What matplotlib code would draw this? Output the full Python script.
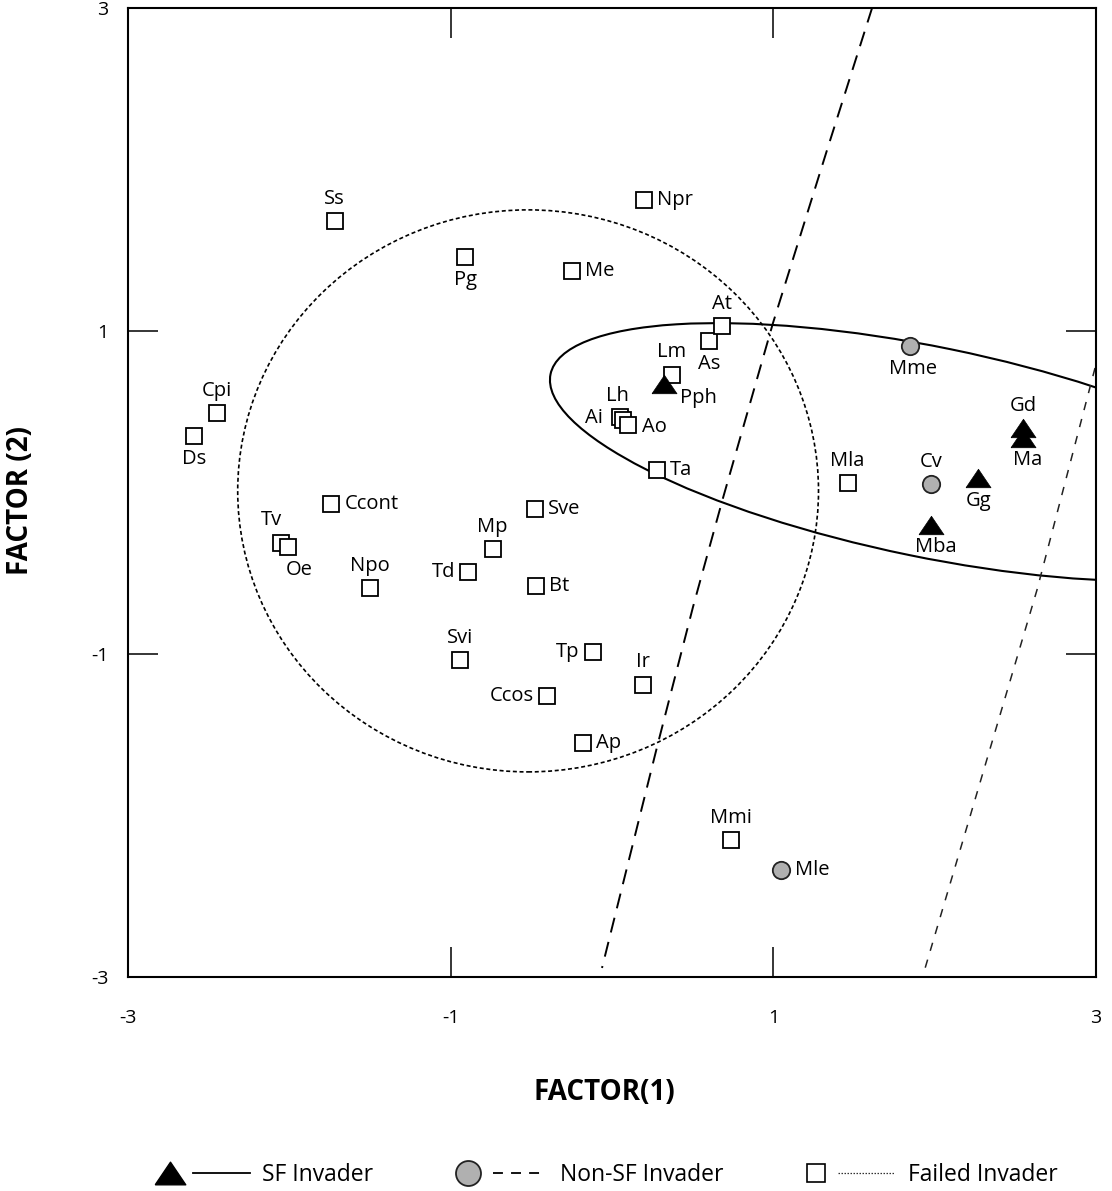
import numpy as np
import matplotlib
matplotlib.use('Agg')
import matplotlib.pyplot as plt
from matplotlib.patches import Ellipse

plt.rcParams['font.family'] = ['Open Sans', 'DejaVu Sans']

# failed invaders (squares)
failed_names = ['Ss', 'Pg', 'Npr', 'Me', 'As', 'At', 'Lm', 'Lh', 'Ai', 'Ao', 'Ta', 'Mla',
                'Cpi', 'Ds', 'Ccont', 'Tv', 'Oe', 'Npo', 'Sve', 'Mp', 'Td', 'Bt', 'Svi',
                'Tp', 'Ir', 'Ccos', 'Ap', 'Mmi']
failed_x = [-1.72, -0.91, 0.20, -0.25, 0.60, 0.68, 0.37, 0.05, 0.07, 0.10, 0.28, 1.46,
            -2.45, -2.59, -1.74, -2.05, -2.01, -1.50, -0.48, -0.74, -0.89, -0.47, -0.94,
            -0.12, 0.19, -0.40, -0.18, 0.74]
failed_y = [1.68, 1.46, 1.81, 1.37, 0.94, 1.03, 0.73, 0.47, 0.45, 0.42, 0.14, 0.06,
            0.49, 0.35, -0.07, -0.31, -0.34, -0.59, -0.10, -0.35, -0.49, -0.58, -1.04,
            -0.99, -1.19, -1.26, -1.55, -2.15]

# non-SF invaders (grey circles)
nonsf_names = ['Mme', 'Cv', 'Mle']
nonsf_x = [1.85, 1.98, 1.05]
nonsf_y = [0.91, 0.05, -2.34]

# SF invaders (triangles)
sf_names = ['Pph', 'Ma', 'Gd', 'Gg', 'Mba']
sf_x = [0.32, 2.55, 2.55, 2.27, 1.98]
sf_y = [0.67, 0.34, 0.40, 0.09, -0.20]

# group boundaries
sf_center = (1.97, 0.25)
sf_axes = (4.80, 1.30)
sf_angle = -11.6

failed_center = (-0.52, 0.01)
failed_axes = (3.60, 3.48)

nonsf_line_x = [1.612, 1.333, 0.998, 0.688, 0.502, 0.279, -0.062]
nonsf_line_y = [3.0, 2.121, 1.050, -0.034, -0.709, -1.576, -2.944]

right_line_x = [2.994, 2.634, 2.176, 1.928]
right_line_y = [0.771, -0.604, -2.152, -2.988]

# where each name sits relative to its marker
label_side = {
    'Ss': 'n', 'Pg': 's', 'Npr': 'e', 'Me': 'e', 'As': 's', 'At': 'n', 'Lm': 'n',
    'Lh': 'n', 'Ai': 'w', 'Ao': 'e', 'Ta': 'e', 'Mla': 'n', 'Cpi': 'n', 'Ds': 's',
    'Ccont': 'e', 'Tv': 'n', 'Oe': 's', 'Npo': 'n', 'Sve': 'e', 'Mp': 'n', 'Td': 'w',
    'Bt': 'e', 'Svi': 'n', 'Tp': 'w', 'Ir': 'n', 'Ccos': 'w', 'Ap': 'e', 'Mmi': 'n',
    'Mme': 's', 'Cv': 'n', 'Mle': 'e',
    'Pph': 'e', 'Gd': 'n', 'Ma': 's', 'Gg': 's', 'Mba': 's',
}
side_offset = {'n': (0, 16, 'center'), 's': (0, -16.5, 'center'),
               'e': (9.5, 0, 'left'), 'w': (-9.5, 0, 'right')}
custom_offset = {
    'Pph': (12, -10, 'left'), 'Ai': (-15, 1, 'right'), 'Ao': (10, -2, 'left'),
    'Tv': (-7, 16.5, 'center'), 'Oe': (8, -16.5, 'center'), 'Ma': (3, -16, 'center'),
    'Mba': (3.5, -16, 'center'), 'Mme': (1.5, -17, 'center'), 'Lh': (-2, 15, 'center'),
}

tri = [(-1, -0.74), (1, -0.74), (0, 0.74), (-1, -0.74)]

fig = plt.figure(figsize=(11.12, 11.91), dpi=100)
ax = fig.add_axes([128 / 1112, 1 - 977 / 1191, 968 / 1112, 969 / 1191])
ax.set_xlim(-3, 3)
ax.set_ylim(-3, 3)

ax.add_patch(Ellipse(sf_center, sf_axes[0], sf_axes[1], angle=sf_angle,
                     fill=False, lw=1.5, color='black', zorder=2))
ax.add_patch(Ellipse(failed_center, failed_axes[0], failed_axes[1], fill=False,
                     lw=1.2, ls=(0, (2.4, 1.6)), color='black', zorder=2))
ax.plot(nonsf_line_x, nonsf_line_y, color='black', lw=1.4, ls=(0, (7.8, 5)), zorder=2)
ax.plot(right_line_x, right_line_y, color='#222222', lw=1.1, ls=(0, (5.5, 6)), zorder=2)

for x, y in zip(failed_x, failed_y):
    ax.plot(x, y, marker='s', ms=12, mfc='white', mec='black', mew=1.3, zorder=3)
ax.plot(nonsf_x, nonsf_y, ls='none', marker='o', ms=12.5, mfc='#b0b0b0', mec='#222222',
        mew=1.3, zorder=4)
ax.plot(sf_x, sf_y, ls='none', marker=tri, ms=18, mfc='black', mec='black', mew=0.5,
        zorder=5)

names = failed_names + nonsf_names + sf_names
xs = failed_x + nonsf_x + sf_x
ys = failed_y + nonsf_y + sf_y
for name, x, y in zip(names, xs, ys):
    dx, dy, ha = custom_offset.get(name, side_offset[label_side[name]])
    ax.annotate(name, (x, y), xytext=(dx, dy), textcoords='offset points',
                ha=ha, va='center', fontsize=14.5, zorder=6)

ax.set_xticks([-3, -1, 1, 3])
ax.set_xticklabels(['-3', '-1', '1', '3'])
ax.set_yticks([-3, -1, 1, 3])
ax.set_yticklabels(['-3', '-1', '1', '3'])
ax.tick_params(direction='in', length=21.6, width=1.1, top=True, right=True,
               labelsize=14)
ax.tick_params(axis='x', pad=23)
ax.tick_params(axis='y', pad=14)
for s in ax.spines.values():
    s.set_linewidth(1.5)

ax.set_xlabel('FACTOR(1)', fontsize=20, fontweight='bold')
ax.xaxis.set_label_coords(0.492, -0.104)
ax.set_ylabel('FACTOR (2)', fontsize=20, fontweight='bold')
ax.yaxis.set_label_coords(-0.096, 0.492)

# legend row along the bottom
lax = fig.add_axes([0, 0, 1, 40 / 1191])
lax.set_xlim(0, 1112)
lax.set_ylim(0, 1)
lax.axis('off')
key_x = [170, 468, 816]
key_labels = ['SF Invader', 'Non-SF Invader', 'Failed Invader']
lax.plot(key_x[0], 0.45, marker=tri, ms=22, color='black')
lax.plot(key_x[1], 0.45, marker='o', ms=18, mfc='#b0b0b0', mec='#222222', mew=1.3)
lax.plot(key_x[2], 0.45, marker='s', ms=13.5, mfc='white', mec='black', mew=1.2)
lax.plot([key_x[0] + 23, key_x[0] + 80], [0.45, 0.45], color='black', lw=1.3)
lax.plot([key_x[1] + 25, key_x[1] + 77], [0.45, 0.45], color='black', lw=1.3,
         ls=(0, (5.5, 4.5)))
lax.plot([key_x[2] + 22, key_x[2] + 79], [0.45, 0.45], color='#333333', lw=0.9,
         ls=(0, (1.2, 1.2)))
for kx, lab in zip(key_x, key_labels):
    lax.text(kx + 92, 0.40, lab, va='center', ha='left', fontsize=16.5)

fig.savefig('out.png', dpi=100)
